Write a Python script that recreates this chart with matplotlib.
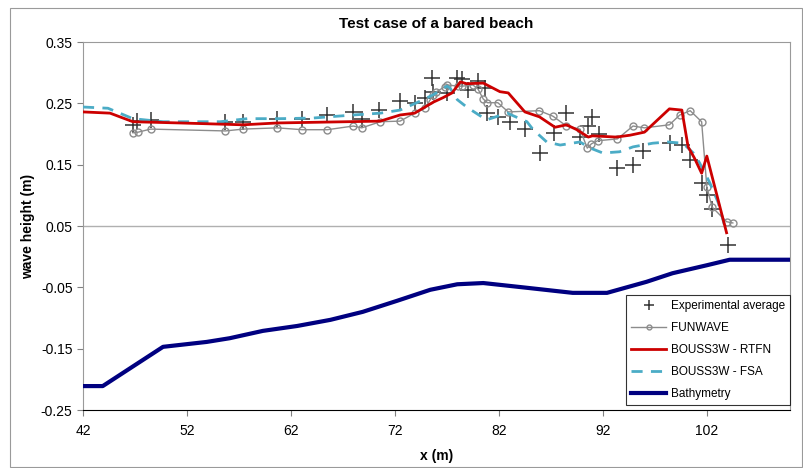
import matplotlib.pyplot as plt
import matplotlib.patches as patches

# experimental average (+ markers)
exp_x = [46.8, 47.2, 48.5, 55.7, 57.4, 60.7, 63.1, 65.5, 68.0, 68.8, 70.5, 72.5,
         73.9, 74.9, 75.6, 75.7, 77.0, 78.0, 78.5, 79.0, 80.0, 80.7, 80.9, 81.9,
         83.1, 84.5, 86.0, 87.3, 88.5, 89.8, 90.6, 91.0, 91.6, 93.4, 94.9, 95.9,
         98.5, 99.6, 100.4, 101.5, 102.0, 102.5, 104.0]
exp_y = [0.215, 0.221, 0.223, 0.220, 0.220, 0.225, 0.225, 0.231, 0.236, 0.225, 0.239, 0.254,
         0.251, 0.259, 0.291, 0.269, 0.267, 0.291, 0.290, 0.272, 0.287, 0.275, 0.234, 0.228,
         0.220, 0.208, 0.169, 0.202, 0.234, 0.195, 0.213, 0.228, 0.200, 0.145, 0.150, 0.172,
         0.185, 0.182, 0.158, 0.120, 0.101, 0.078, 0.019]

# FUNWAVE
fun_x = [46.8, 47.3, 48.5, 55.7, 57.4, 60.7, 63.1, 65.5, 68.0, 68.8, 70.6, 72.5,
         73.9, 74.9, 75.4, 75.7, 76.0, 76.8, 77.0, 78.1, 78.5, 79.5, 80.0, 80.5,
         80.9, 81.9, 82.9, 85.9, 87.2, 88.5, 89.8, 90.5, 90.9, 91.5, 93.4, 94.9,
         96.0, 98.4, 99.4, 100.4, 101.5, 102.0, 102.5, 103.9, 104.5]
fun_y = [0.202, 0.203, 0.208, 0.205, 0.208, 0.210, 0.207, 0.207, 0.213, 0.210, 0.220, 0.221,
         0.234, 0.242, 0.256, 0.264, 0.269, 0.277, 0.280, 0.278, 0.278, 0.280, 0.273, 0.257,
         0.251, 0.251, 0.236, 0.238, 0.229, 0.213, 0.208, 0.177, 0.184, 0.189, 0.192, 0.213,
         0.210, 0.215, 0.231, 0.238, 0.220, 0.114, 0.081, 0.057, 0.055]

# BOUSS3W - RTFN
rtfn_x = [42.0, 44.6, 46.8, 51.3, 57.4, 60.7, 70.6, 72.5, 73.9, 75.7, 76.6, 77.5,
          78.3, 78.9, 80.5, 82.1, 82.9, 84.5, 85.9, 87.4, 88.5, 89.5, 90.6, 91.0,
          93.3, 94.6, 96.0, 98.4, 99.6, 100.2, 100.8, 101.5, 102.0, 103.9]
rtfn_y = [0.236, 0.234, 0.220, 0.218, 0.215, 0.218, 0.221, 0.231, 0.234, 0.252, 0.259, 0.267,
          0.285, 0.282, 0.283, 0.269, 0.267, 0.236, 0.228, 0.211, 0.215, 0.207, 0.195, 0.197,
          0.195, 0.198, 0.203, 0.241, 0.239, 0.179, 0.161, 0.136, 0.164, 0.039]

# BOUSS3W - FSA
fsa_x = [42.0, 44.4, 46.8, 49.7, 55.2, 57.8, 60.9, 64.1, 68.0, 70.6, 72.5, 74.1,
         75.7, 77.0, 77.3, 78.0, 78.9, 80.8, 82.8, 84.7, 85.3, 86.6, 87.9, 89.8,
         90.8, 92.0, 93.6, 94.9, 96.8, 98.2, 99.7, 100.7, 101.3, 102.3, 103.1, 103.9]
fsa_y = [0.244, 0.242, 0.225, 0.220, 0.220, 0.225, 0.225, 0.226, 0.231, 0.234, 0.239, 0.251,
         0.264, 0.278, 0.275, 0.256, 0.244, 0.223, 0.234, 0.220, 0.207, 0.187, 0.182, 0.187,
         0.177, 0.169, 0.171, 0.179, 0.185, 0.187, 0.185, 0.169, 0.153, 0.120, 0.088, 0.039]

# bathymetry
bath_x = [42.0, 43.9, 49.7, 53.9, 56.1, 59.3, 62.6, 65.8, 68.9, 72.2, 75.4, 78.0,
          80.5, 84.3, 89.1, 92.4, 96.2, 98.7, 102.0, 104.2, 110.0]
bath_y = [-0.211, -0.211, -0.147, -0.139, -0.133, -0.121, -0.113, -0.103, -0.090, -0.072,
          -0.054, -0.045, -0.043, -0.050, -0.059, -0.059, -0.041, -0.027, -0.014, -0.005, -0.005]

xticks = [42, 52, 62, 72, 82, 92, 102]
yticks = [-0.25, -0.15, -0.05, 0.05, 0.15, 0.25, 0.35]

plt.rcParams['font.family'] = ['Liberation Sans', 'DejaVu Sans']

fig = plt.figure(figsize=(8.04, 4.68), dpi=100)
ax = fig.add_axes([83 / 804, 1 - 410 / 468, (790 - 83) / 804, (410 - 42) / 468])

# chart border
fig.patches.append(patches.Rectangle((10 / 804, 0.002), 0.985, 1 - 8 / 468 - 0.002,
                                     transform=fig.transFigure, fill=False,
                                     edgecolor='#9a9a9a', linewidth=0.8))

ax.axhline(0.05, color='#b0b0b0', linewidth=1, zorder=1)

ax.plot(exp_x, exp_y, linestyle='none', marker='+', markersize=11, mew=1.1,
        color='#333333', label='Experimental average', zorder=3)
ax.plot(fun_x, fun_y, color='#8c8c8c', linewidth=1, marker='o', markersize=5,
        markerfacecolor='none', markeredgecolor='#8c8c8c', mew=1,
        label='FUNWAVE', zorder=4)
ax.plot(rtfn_x, rtfn_y, color='#cc0000', linewidth=2, label='BOUSS3W - RTFN', zorder=5)
ax.plot(fsa_x, fsa_y, color='#4bacc6', linewidth=2, linestyle=(0, (4, 3)),
        label='BOUSS3W - FSA', zorder=4)
ax.plot(bath_x, bath_y, color='#000080', linewidth=3, label='Bathymetry', zorder=5)

ax.set_xlim(42, 110)
ax.set_ylim(-0.25, 0.35)
ax.set_xticks(xticks)
ax.set_yticks(yticks)
ax.set_yticklabels(['%.2f' % v for v in yticks])
ax.tick_params(labelsize=10, length=4, color='#808080')
ax.tick_params(axis='x', pad=6)

for side in ['left', 'top', 'right']:
    ax.spines[side].set_color('#9a9a9a')
ax.spines['bottom'].set_color('black')

ax.set_title('Test case of a bared beach', fontsize=11, fontweight='bold', pad=10)
ax.set_xlabel('x (m)', fontsize=10, fontweight='bold', labelpad=8)
ax.set_ylabel('wave height (m)', fontsize=10, fontweight='bold', labelpad=4)

leg = ax.legend(loc='lower right', bbox_to_anchor=(1.0, 5 / 368), fontsize=8.5,
                frameon=True, fancybox=False, edgecolor='black', borderaxespad=0,
                handlelength=3, handletextpad=0.4, labelspacing=0.85,
                markerscale=0.7)
leg.get_frame().set_linewidth(0.8)

fig.savefig('out.png', dpi=100)
